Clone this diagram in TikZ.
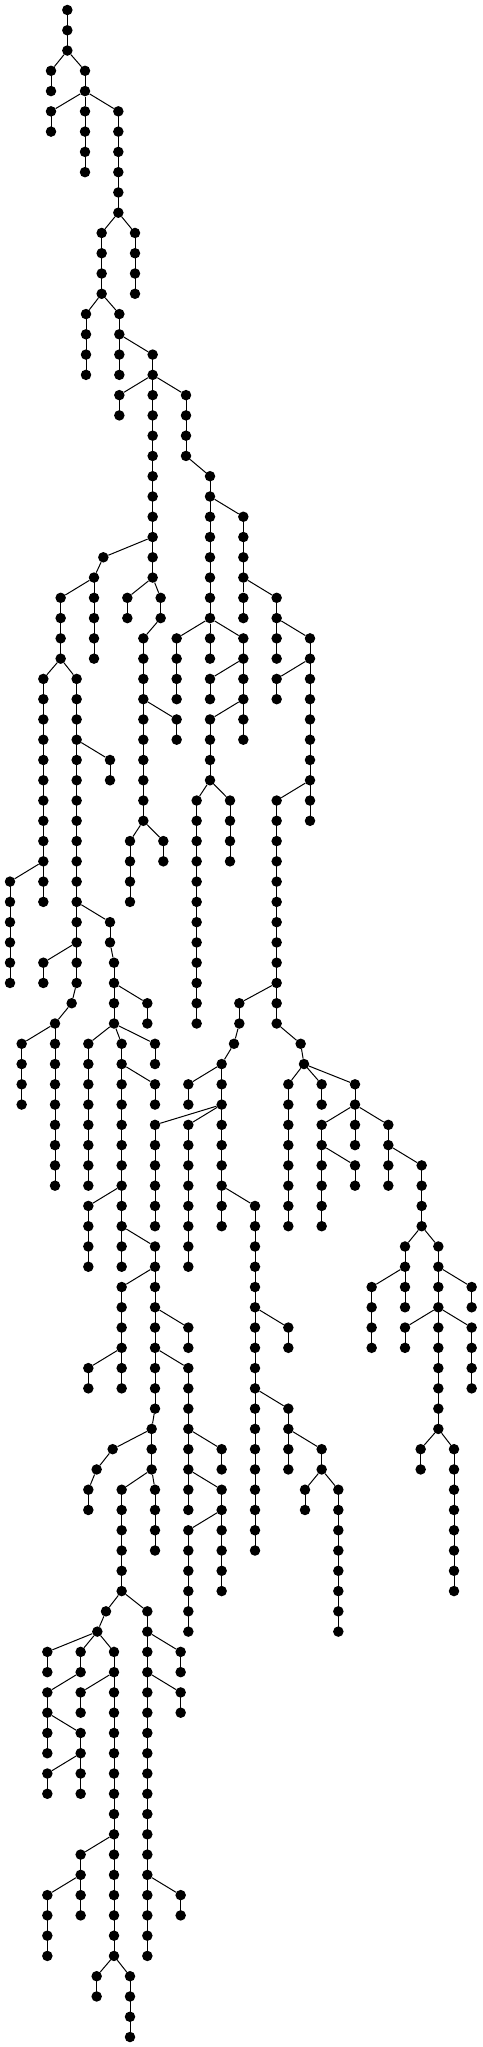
\documentclass[tikz,border=0pt]{standalone}
\begin{document}
\begin{tikzpicture}[x=1pt,y=-1pt,
  v/.style={circle,fill=black,inner sep=0pt,minimum size=10.5pt},
  e/.style={line width=1pt,black}]
\useasboundingbox (0,0) rectangle (482,2047);
\newcommand\chainnodes[4]{%
  \foreach \lv in {#3,...,#4} {\node[v] (#1-\lv) at ({#2/3},{10+20.27*\lv}) {};}
  \draw[e] (#1-#3.center) -- (#1-#4.center);}
\newcommand\chain[5]{\chainnodes{#1}{#2}{#3}{#4}\draw[e] (#5) -- (#1-#3);}
\chainnodes{A}{202}{0}{2}
\chain{B}{153}{3}{4}{A-2}
\chain{C}{255}{3}{4}{A-2}
\chain{D}{153}{5}{6}{C-4}
\chain{E}{255}{5}{8}{C-4}
\chain{F}{355}{5}{10}{C-4}
\chain{G}{305}{11}{14}{F-10}
\chain{H}{405}{11}{14}{F-10}
\chain{I}{258}{15}{18}{G-14}
\chain{J}{358}{15}{18}{G-14}
\chain{K}{458}{17}{28}{J-16}
\chain{Ka}{358}{19}{20}{K-18}
\chain{M}{558}{19}{22}{K-18}
\chain{N}{630}{23}{30}{M-22}
\chain{O}{730}{25}{28}{N-24}
\chain{P}{310}{27}{27}{K-26}
\chain{Q}{282}{28}{32}{P-27}
\chain{R}{182}{29}{32}{Q-28}
\chain{S}{382}{29}{30}{K-28}
\chain{T}{482}{29}{30}{K-28}
\chain{U}{430}{31}{40}{T-30}
\chain{V}{530}{31}{34}{N-30}
\chain{W}{630}{31}{32}{N-30}
\chain{X}{730}{31}{36}{N-30}
\chain{Y}{630}{33}{34}{X-32}
\chain{Z}{630}{35}{38}{X-34}
\chain{AA}{730}{29}{30}{O-28}
\chain{AB}{830}{29}{32}{O-28}
\chain{AC}{930}{31}{40}{AB-30}
\chain{AD}{830}{33}{34}{AC-32}
\chain{AE}{830}{39}{50}{AC-38}
\chain{AF}{530}{35}{36}{U-34}
\chain{AG}{590}{39}{50}{Z-38}
\chain{AH}{690}{39}{42}{Z-38}
\chain{AI}{390}{41}{44}{U-40}
\chain{AJ}{490}{41}{42}{U-40}
\chain{AK}{130}{33}{44}{R-32}
\chain{AL}{30}{43}{48}{AK-42}
\chain{AM}{230}{33}{48}{R-32}
\chain{AN}{330}{37}{38}{AM-36}
\chain{AO}{330}{45}{46}{AM-44}
\chain{AP}{130}{47}{48}{AM-46}
\chain{AQ}{215}{49}{49}{AM-48}
\chain{AR}{165}{50}{58}{AQ-49}
\chain{AS}{65}{51}{54}{AR-50}
\chain{AT}{342}{47}{50}{AO-46}
\chain{AU}{442}{49}{50}{AT-48}
\chain{AV}{265}{51}{58}{AT-50}
\chain{AW}{365}{51}{62}{AT-50}
\chain{AX}{465}{51}{52}{AT-50}
\chain{AY}{465}{53}{54}{AW-52}
\chain{AZ}{265}{59}{62}{AW-58}
\chain{BA}{465}{61}{69}{AW-60}
\chain{BB}{365}{63}{68}{BA-62}
\chain{BC}{265}{67}{68}{BB-66}
\chain{BD}{565}{65}{66}{BA-64}
\chain{BE}{565}{67}{74}{BA-66}
\chain{BF}{665}{71}{72}{BE-70}
\chain{BG}{665}{73}{78}{BE-72}
\chain{BH}{565}{75}{80}{BG-74}
\chain{BI}{455}{70}{72}{BA-69}
\chain{BJ}{338}{71}{71}{BI-70}
\chain{BK}{290}{72}{72}{BJ-71}
\chain{BL}{265}{73}{74}{BK-72}
\chain{BM}{365}{73}{78}{BI-72}
\chain{BN}{465}{73}{76}{BI-72}
\chain{BO}{318}{79}{79}{BM-78}
\chain{BP}{292}{80}{80}{BO-79}
\chain{BQ}{142}{81}{82}{BP-80}
\chain{BR}{242}{81}{82}{BP-80}
\chain{BS}{342}{81}{96}{BP-80}
\chain{BT}{142}{83}{86}{BR-82}
\chain{BU}{242}{83}{84}{BS-82}
\chain{BV}{242}{85}{88}{BT-84}
\chain{BW}{142}{87}{88}{BV-86}
\chain{BX}{242}{91}{94}{BS-90}
\chain{BY}{142}{93}{96}{BX-92}
\chain{BZ}{290}{97}{98}{BS-96}
\chain{CA}{390}{97}{100}{BS-96}
\chain{CB}{442}{79}{96}{BM-78}
\chain{CC}{542}{81}{82}{CB-80}
\chain{CD}{542}{83}{84}{CB-82}
\chain{CE}{542}{93}{94}{CB-92}
\chain{CF}{718}{49}{50}{AE-48}
\chain{CG}{702}{51}{51}{CF-50}
\chain{CH}{665}{52}{60}{CG-51}
\chain{CI}{565}{53}{54}{CH-52}
\chain{CJ}{465}{55}{60}{CH-54}
\chain{CK}{565}{55}{62}{CH-54}
\chain{CL}{765}{59}{76}{CH-58}
\chain{CM}{865}{65}{66}{CL-64}
\chain{CN}{865}{69}{72}{CL-68}
\chain{CO}{965}{71}{72}{CN-70}
\chain{CP}{915}{73}{74}{CO-72}
\chain{CQ}{1015}{73}{80}{CO-72}
\chain{CR}{902}{51}{51}{AE-50}
\chain{CS}{912}{52}{52}{CR-51}
\chain{CT}{865}{53}{60}{CS-52}
\chain{CU}{965}{53}{54}{CS-52}
\chain{CV}{1065}{53}{56}{CS-52}
\chain{CW}{965}{55}{60}{CV-54}
\chain{CX}{1065}{57}{58}{CW-56}
\chain{CY}{1165}{55}{58}{CV-54}
\chain{CZ}{1265}{57}{60}{CY-56}
\chain{DA}{1215}{61}{64}{CZ-60}
\chain{DB}{1115}{63}{66}{DA-62}
\chain{DC}{1315}{61}{70}{CZ-60}
\chain{DD}{1415}{63}{64}{DC-62}
\chain{DE}{1215}{65}{66}{DC-64}
\chain{DF}{1415}{65}{68}{DC-64}
\chain{DG}{1262}{71}{72}{DC-70}
\chain{DH}{1362}{71}{78}{DC-70}
\end{tikzpicture}
\end{document}
